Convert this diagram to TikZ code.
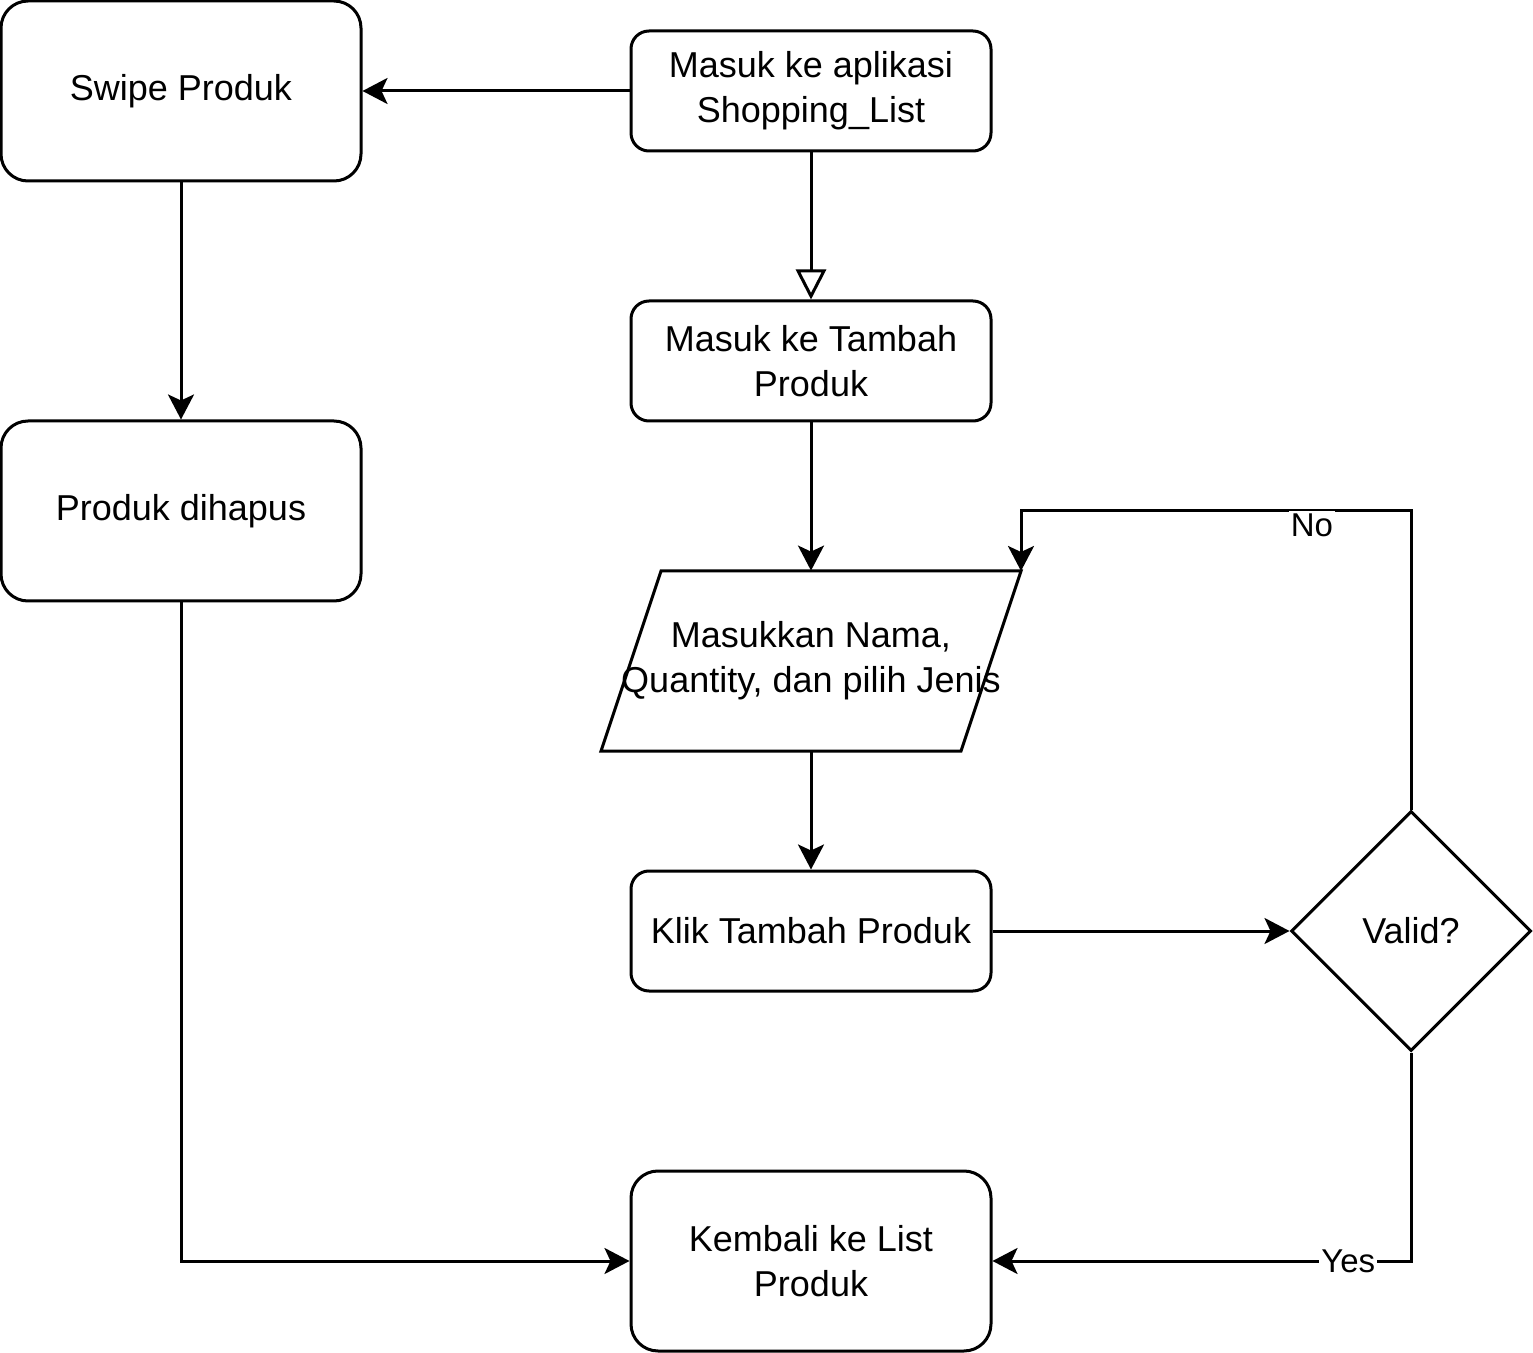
\documentclass[tikz,border=0pt]{standalone}
\usepackage{fontspec}
\setmainfont{Liberation Sans}
\usetikzlibrary{shapes.geometric,arrows.meta}
\begin{document}
\begin{tikzpicture}[x=0.5pt,y=-0.5pt,
  box/.style={draw,line width=1.5pt,rounded corners=9pt,minimum width=180pt,minimum height=60pt,align=center,inner sep=0pt,font=\fontsize{18}{22.5}\selectfont},
  bigbox/.style={box,minimum height=90pt,rounded corners=13.5pt},
  txt/.style={align=center,inner sep=0pt,font=\fontsize{18}{22.5}\selectfont},
  dia/.style={draw,diamond,line width=1.5pt,minimum width=120pt,minimum height=120pt,inner sep=0pt,font=\fontsize{18}{22.5}\selectfont},
  arr/.style={line width=1.5pt,-{Stealth[length=12.5pt,width=13pt,inset=3pt]}},
  openarr/.style={line width=1.5pt,-{Triangle[open,length=15pt,width=15pt]}},
  lbl/.style={fill=white,inner sep=1pt,font=\fontsize{16.5}{20}\selectfont}]
\useasboundingbox[fill=white] (0,0) rectangle (1533,1353);
\node[bigbox] (sw) at (181,91) {Swipe Produk};
\node[box] (ma) at (811,91) {Masuk ke aplikasi\\Shopping\_List};
\node[box] (tp) at (811,361) {Masuk ke Tambah\\Produk};
\node[bigbox] (pd) at (181,511) {Produk dihapus};
\node[txt,minimum width=180pt,minimum height=90pt] (p) at (811,661) {Masukkan Nama,\\Quantity, dan pilih Jenis};
\coordinate (pTL) at (661,571);
\coordinate (pTR) at (1021,571);
\coordinate (pBR) at (961,751);
\coordinate (pBL) at (601,751);
\draw[line width=1.5pt,line join=miter] (pTL) -- (pTR) -- (pBR) -- (pBL) -- cycle;
\node[box] (kt) at (811,931) {Klik Tambah Produk};
\node[dia] (v) at (1411,931) {Valid?};
\node[bigbox] (kb) at (811,1261) {Kembali ke List\\Produk};
\coordinate (nt) at (1021,511);
\draw[arr] (ma.west) -- (sw.east);
\draw[openarr] (ma.south) -- (tp.north);
\draw[arr] (tp.south) -- (p.north);
\draw[arr] (sw.south) -- (pd.north);
\draw[arr] (pd.south) |- (kb.west);
\draw[arr] (p.south) -- (kt.north);
\draw[arr] (kt.east) -- (v.west);
\draw[arr] (v.north) |- node[lbl,pos=0.627,yshift=-7pt] {No} (nt) -- (pTR);
\draw[arr] (v.south) |- node[lbl,pos=0.575] {Yes} (kb.east);
\end{tikzpicture}
\end{document}
